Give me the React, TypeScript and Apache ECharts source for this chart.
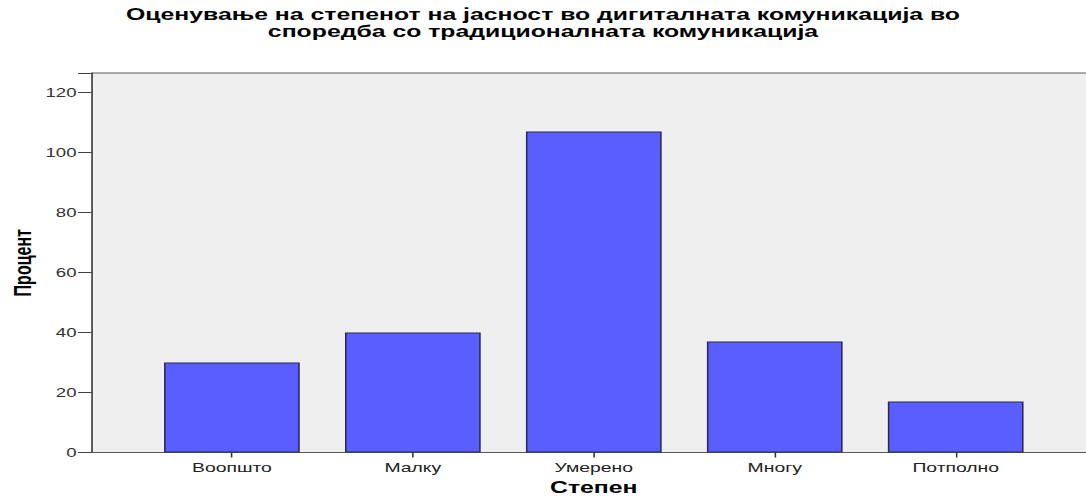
import React, { useEffect, useRef } from "react";
import * as echarts from "echarts";

const titleText = "Оценување на степенот на јасност во дигиталната комуникација во\nспоредба со традиционалната комуникација";
const categories = ["Воопшто", "Малку", "Умерено", "Многу", "Потполно"];
const values = [30, 40, 107, 37, 17];
const yTicks = { min: 0, max: 126.5, interval: 20 };
const yName = "Процент";
const xName = "Степен";

const STRETCH = 1.5492;
const W = 701;
const H = 498;
const FONT = "'Liberation Sans', Arial, sans-serif";

export default function App() {
  const ref = useRef<HTMLDivElement>(null);
  useEffect(() => {
    if (!ref.current) return;
    const chart = echarts.init(ref.current, undefined, { renderer: "svg" });
    chart.setOption({
      animation: false,
      backgroundColor: "#ffffff",
      title: {
        text: titleText,
        left: "center",
        top: 1,
        textStyle: { fontFamily: FONT, fontSize: 16, fontWeight: "bold", color: "#000", lineHeight: 17 },
      },
      graphic: [
        {
          type: "rect",
          z: -10,
          shape: { x: 59.4, y: 73, width: 700, height: 379.5 },
          style: { fill: "#efefef", stroke: "#5a5a5a", lineWidth: 1 },
          silent: true,
        },
      ],
      grid: [
        { left: 91.3, right: 25.7, top: 73, bottom: 45.5, show: false, outerBoundsMode: "none", containLabel: false },
      ],
      xAxis: [
        {
          type: "category",
          data: categories,
          boundaryGap: true,
          axisLine: { show: false },
          axisTick: { show: true, alignWithLabel: true, length: 5, lineStyle: { color: "#333", width: 1 } },
          axisLabel: { fontFamily: FONT, fontSize: 12.5, color: "#222", margin: 8.5 },
          name: xName,
          nameLocation: "middle",
          nameGap: 27,
          nameMoveOverlap: false,
          nameTextStyle: { fontFamily: FONT, fontSize: 16, fontWeight: "bold", color: "#000" },
        },
      ],
      yAxis: [
        {
          type: "value",
          min: yTicks.min,
          max: yTicks.max,
          interval: yTicks.interval,
          offset: 31.9,
          splitLine: { show: false },
          axisLine: { show: true, lineStyle: { color: "#555", width: 1 } },
          axisTick: { show: true, length: 9, lineStyle: { color: "#444", width: 1 } },
          axisLabel: {
            fontFamily: FONT,
            fontSize: 12,
            color: "#333",
            margin: 10,
            formatter: (v: number) => (v % 20 === 0 ? String(v) : ""),
          },
          name: yName,
          nameLocation: "middle",
          nameRotate: 90,
          nameGap: 37,
          nameMoveOverlap: false,
          nameTextStyle: { fontFamily: FONT, fontSize: 16, fontWeight: "bold", color: "#000" },
        },
      ],
      series: [
        {
          type: "bar",
          data: values,
          barCategoryGap: "25%",
          itemStyle: { color: "#5a5eff", borderColor: "#2a2a55", borderWidth: 1 },
        },
      ],
    });
    return () => chart.dispose();
  }, []);
  return (
    <div
      ref={ref}
      style={{
        position: "fixed",
        left: 0,
        top: 0,
        width: W + "px",
        height: H + "px",
        transform: `scaleX(${STRETCH})`,
        transformOrigin: "0 0",
      }}
    />
  );
}
